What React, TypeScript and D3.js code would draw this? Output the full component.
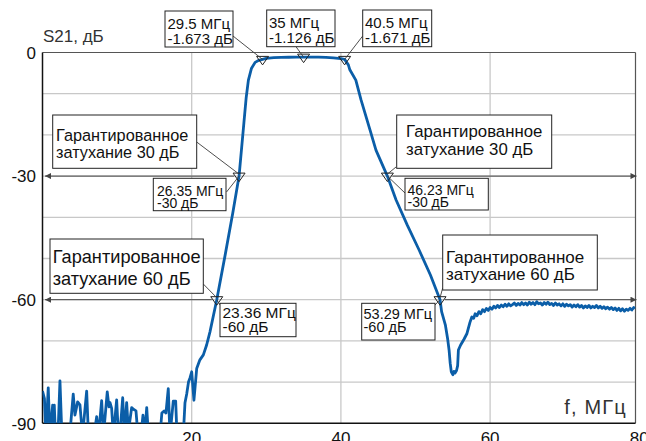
import React from 'react';
import * as d3 from 'd3';

// ---------- data ----------
const xTickValues = [20, 40, 60, 80];
const xGridValues = [20, 40, 60];
const yTickValues = [0, -30, -60, -90];
const yGridValues = [-10, -20, -30, -40, -50, -60, -70, -80];

// frequency (MHz), S21 (dB)
const noiseFloor: [number, number][] = [
  [0.0, -82.2], [0.26, -84], [0.46, -93], [0.77, -81.4], [1.0, -93], [1.36, -85.6], [1.47, -93],
  [1.58, -85.6], [1.74, -93], [2.07, -93], [2.34, -79.7], [2.6, -93], [3.65, -93], [4.12, -82.9],
  [4.35, -88], [4.71, -84.8], [5.02, -85.5], [5.36, -93], [5.92, -82.2], [6.16, -93], [6.9, -93],
  [7.26, -88.4], [7.5, -93], [7.93, -84.5], [8.17, -93], [8.68, -82.4], [8.91, -86], [9.05, -85],
  [9.27, -86.4], [9.5, -93], [9.94, -84.3], [10.18, -93], [10.45, -91], [10.75, -83.8], [10.99, -93],
  [11.28, -85], [11.52, -92], [11.95, -86.2], [12.13, -86.5], [12.53, -87], [12.8, -93], [13.2, -93],
  [13.47, -88], [13.7, -93], [13.97, -86.2], [14.2, -93], [15.75, -93], [16.0, -87.5], [16.3, -87],
  [16.55, -87.5], [16.86, -81.6], [17.09, -93], [17.53, -84.6], [17.85, -84.6], [18.03, -93],
  [18.87, -93], [19.1, -85], [19.33, -82.9], [19.57, -80], [19.77, -79], [20.0, -77.5], [20.3, -84.4],
];
const lowerSkirt: [number, number][] = [
  [20.67, -76.7], [21.1, -74.6], [21.56, -73.4], [22.0, -71], [22.45, -67.8], [23.36, -60],
  [24.5, -49], [25.5, -39], [26.35, -30], [27.0, -17], [27.3, -11], [27.6, -6.7], [28.0, -3.9],
  [28.5, -2.4], [29.0, -1.9],
];
const passband: [number, number][] = [
  [29.5, -1.673], [30, -1.45], [31, -1.25], [32, -1.18], [33, -1.15], [34, -1.13], [35, -1.126],
  [36, -1.12], [37, -1.14], [38, -1.2], [39, -1.3], [40, -1.5], [40.5, -1.671],
];
const upperSkirt: [number, number][] = [
  [41.0, -3.0], [41.2, -4.2], [42.0, -6.7], [42.7, -11.5], [43.9, -18.8], [44.7, -23.7],
  [46.23, -30], [47.4, -35.8], [48.9, -41.9], [50.5, -48], [52.0, -54], [53.29, -60], [53.5, -62.9],
  [54.0, -66.1], [54.3, -69.4], [54.5, -72.2], [54.65, -75.4], [54.8, -77.5], [55.0, -78.2],
  [55.15, -77.4], [55.3, -77.8], [55.5, -77.2], [55.65, -76], [55.75, -72.2], [56.05, -71],
  [56.5, -69.6], [56.9, -68.2], [57.3, -65.5], [57.55, -64.2], [57.8, -64.5], [58.0, -63.4],
  [58.25, -63.9], [58.5, -62.9], [58.75, -63.4], [59.0, -62.4], [59.25, -62.9], [59.5, -62.1],
  [59.75, -62.6],
];
const stopbandTail: [number, number][] = [
  [60.0, -61.9], [60.25, -62.3], [60.5, -61.6], [60.75, -62.0], [61.0, -61.4], [61.25, -61.9],
  [61.5, -61.3], [61.75, -61.7], [62.0, -61.1], [62.25, -61.6], [62.5, -61.0], [62.75, -61.5],
  [63.0, -61.2], [63.25, -60.8], [63.5, -61.4], [63.75, -60.9], [64.0, -61.3], [64.25, -60.7],
  [64.5, -61.2], [64.75, -60.8], [65.0, -61.3], [65.25, -60.6], [65.5, -61.1], [65.75, -60.7],
  [66.0, -61.2], [66.25, -60.5], [66.5, -61.0], [66.75, -60.8], [67.0, -61.3], [67.25, -60.7],
  [67.5, -61.1], [67.75, -60.6], [68.0, -61.2], [68.25, -60.9], [68.5, -61.4], [68.75, -60.8],
  [69.0, -61.3], [69.25, -61.0], [69.5, -61.5], [69.75, -61.0], [70.0, -61.6], [70.25, -61.1],
  [70.5, -61.5], [70.75, -61.2], [71.0, -61.8], [71.25, -61.3], [71.5, -61.7], [71.75, -61.2],
  [72.0, -61.8], [72.25, -61.4], [72.5, -62.0], [72.75, -61.5], [73.0, -61.9], [73.25, -61.4],
  [73.5, -62.0], [73.75, -61.6], [74.0, -61.9], [74.25, -61.4], [74.5, -62.0], [74.75, -61.6],
  [75.0, -62.1], [75.25, -61.7], [75.5, -62.2], [75.75, -61.8], [76.0, -62.3], [76.25, -61.9],
  [76.5, -62.4], [76.75, -62.0], [77.0, -62.6], [77.25, -62.1], [77.5, -62.7], [77.75, -62.2],
  [78.0, -62.8], [78.25, -62.3], [78.5, -62.6], [78.75, -62.1], [79.0, -62.5], [79.25, -61.9],
  [79.4, -62.2],
];

const markerFreq = [29.5, 35, 40.5, 26.35, 46.23, 23.36, 53.29];
const markerDb = [-1.673, -1.126, -1.671, -30, -30, -60, -60];
const markerFreqText = ['29.5', '35', '40.5', '26.35', '46.23', '23.36', '53.29'];
const markerDbText = ['-1.673', '-1.126', '-1.671', '-30', '-30', '-60', '-60'];

const guaranteeLevels = [30, 30, 60, 60];

// ---------- layout ----------
const W = 646, H = 441;
const PL = 42.5, PT = 52.5, PB = 423.3, PR = 635.5;
const FONT = '"Liberation Sans", Arial, Helvetica, sans-serif';

const readoutBoxes = [
  { x: 165, y: 11, w: 68, h: 36, fs: 15, tx: 167.5, b1: 29, b2: 43.5, lx: 233, ly: 36 },
  { x: 266.7, y: 10, w: 68.3, h: 36.7, fs: 15, tx: 269, b1: 28, b2: 42.5, lx: 296, ly: 46.7 },
  { x: 362.7, y: 10, w: 69, h: 36.7, fs: 15, tx: 365, b1: 28, b2: 42.5, lx: 362.7, ly: 36 },
  { x: 153.3, y: 178.3, w: 72.7, h: 32.4, fs: 14, tx: 157, b1: 196, b2: 207.5, lx: 226.5, ly: 192 },
  { x: 405, y: 178.3, w: 83.3, h: 31.7, fs: 14, tx: 407.5, b1: 195, b2: 206.7, lx: 405, ly: 193 },
  { x: 220, y: 303.3, w: 76, h: 33.4, fs: 15.5, tx: 222.5, b1: 318.3, b2: 331.7, lx: 220, ly: 305 },
  { x: 361.7, y: 303.3, w: 73.3, h: 36.7, fs: 14.5, tx: 363.5, b1: 319, b2: 332, lx: 435, ly: 305 },
];
// guarantee boxes: marker index they point to
const guaranteeBoxes = [
  { m: 3, x: 52.7, y: 115, w: 144, h: 53.3, fs: 16.3, tx: 56, b1: 140.7, b2: 157.5, lx: 196.7, ly: 142, dir: -1 },
  { m: 4, x: 396.7, y: 115, w: 155, h: 53.3, fs: 16.8, tx: 406, b1: 137.3, b2: 155, lx: 396, ly: 167, dir: 1 },
  { m: 5, x: 50, y: 239, w: 153.3, h: 54.3, fs: 18.2, tx: 52.7, b1: 263.3, b2: 285, lx: 203.3, ly: 284, dir: -1 },
  { m: 6, x: 442.7, y: 235, w: 154.6, h: 55, fs: 17, tx: 446, b1: 263.3, b2: 280, lx: 442.7, ly: 288, dir: 1 },
];

export default function App() {
  const x = d3.scaleLinear().domain([0, 80]).range([PL, 639.3]);
  const y = d3.scaleLinear().domain([-90, 0]).range([PB, PT]);

  const all = [...noiseFloor, ...lowerSkirt, ...passband, ...upperSkirt, ...stopbandTail];
  const line = d3.line<[number, number]>().x(d => x(d[0])).y(d => y(d[1]));
  const pathD = line(all) || '';

  const tri = (cx: number, cy: number) =>
    `M${cx - 6},${cy - 3}L${cx + 6},${cy - 3}L${cx},${cy + 5.5}Z`;

  const lineStroke = '#3a3a3a';

  return (
    <svg width={W} height={H} style={{ position: 'absolute', left: 0, top: 0, background: '#fff' }}
      fontFamily={FONT}>
      <defs>
        <clipPath id="plotClip">
          <rect x={PL} y={PT} width={PR - PL} height={PB - PT} />
        </clipPath>
        <marker id="arrowHead" viewBox="0 0 10 10" refX="10" refY="5" markerWidth="8" markerHeight="6"
          markerUnits="userSpaceOnUse" orient="auto">
          <path d="M0,0L10,5L0,10Z" fill="#444" />
        </marker>
      </defs>
      <rect x={0} y={0} width={W} height={H} fill="#fff" />

      {/* grid */}
      {yGridValues.map(v => (
        <line key={'gy' + v} x1={PL} x2={PR} y1={y(v)} y2={y(v)} stroke="#c8c8c8" strokeWidth={1.3} />
      ))}
      {xGridValues.map(v => (
        <line key={'gx' + v} x1={x(v)} x2={x(v)} y1={PT} y2={PB} stroke="#c8c8c8" strokeWidth={1.3} />
      ))}

      {/* frame */}
      <line x1={PL} x2={PR} y1={PT} y2={PT} stroke="#555" strokeWidth={1.2} />
      <line x1={PR} x2={PR} y1={PT} y2={PB} stroke="#555" strokeWidth={1.2} />
      <line x1={PL} x2={PL} y1={PT} y2={PB} stroke="#111" strokeWidth={1.5} />
      <line x1={PL} x2={PR} y1={PB} y2={PB} stroke="#111" strokeWidth={1.5} />

      {/* tick labels */}
      {yTickValues.map(v => (
        <text key={'yt' + v} x={36} y={y(v) + 6.3} textAnchor="end" fontSize={17} fill="#111">{v}</text>
      ))}
      {xTickValues.map(v => (
        <text key={'xt' + v} x={x(v)} y={443.5} textAnchor="middle" fontSize={17} fill="#111">{v}</text>
      ))}
      <text x={43} y={41.5} fontSize={17} fill="#333">S21, дБ</text>
      <text x={627} y={413.5} textAnchor="end" fontSize={20} letterSpacing={1.2} fill="#333">f, МГц</text>

      {/* guarantee level arrows */}
      {guaranteeBoxes.map((g, i) => {
        const mx = x(markerFreq[g.m]);
        const my = y(markerDb[g.m]);
        return g.dir < 0 ? (
          <line key={'ar' + i} x1={mx - 5} x2={PL + 2.5} y1={my} y2={my} stroke="#444" strokeWidth={1}
            markerEnd="url(#arrowHead)" />
        ) : (
          <line key={'ar' + i} x1={mx + 5} x2={PR + 1} y1={my} y2={my} stroke="#444" strokeWidth={1}
            markerEnd="url(#arrowHead)" />
        );
      })}

      {/* curve */}
      <path d={pathD} fill="none" stroke="#0b5ea8" strokeWidth={2.8} strokeLinejoin="round"
        clipPath="url(#plotClip)" />

      {/* markers */}
      {markerFreq.map((f, i) => (
        <path key={'mk' + i} d={tri(x(f), y(markerDb[i]))} fill="none" stroke="#222" strokeWidth={1} />
      ))}

      {/* readout leaders + boxes */}
      {readoutBoxes.map((b, i) => (
        <g key={'rb' + i}>
          <line x1={b.lx} y1={b.ly} x2={x(markerFreq[i])} y2={y(markerDb[i])} stroke={lineStroke} strokeWidth={0.9} />
          <rect x={b.x} y={b.y} width={b.w} height={b.h} fill="#fff" stroke="#222" strokeWidth={1} />
          <text x={b.tx} y={b.b1} fontSize={b.fs} fill="#111">{markerFreqText[i]} МГц</text>
          <text x={b.tx} y={b.b2} fontSize={b.fs} fill="#111">{markerDbText[i]} дБ</text>
        </g>
      ))}

      {/* guarantee boxes */}
      {guaranteeBoxes.map((g, i) => (
        <g key={'gb' + i}>
          <line x1={g.lx} y1={g.ly} x2={x(markerFreq[g.m])} y2={y(markerDb[g.m]) - 2} stroke={lineStroke} strokeWidth={0.9} />
          <rect x={g.x} y={g.y} width={g.w} height={g.h} fill="#fff" stroke="#222" strokeWidth={1} />
          <text x={g.tx} y={g.b1} fontSize={g.fs} fill="#111">Гарантированное</text>
          <text x={g.tx} y={g.b2} fontSize={g.fs} fill="#111">затухание {guaranteeLevels[i]} дБ</text>
        </g>
      ))}
    </svg>
  );
}
